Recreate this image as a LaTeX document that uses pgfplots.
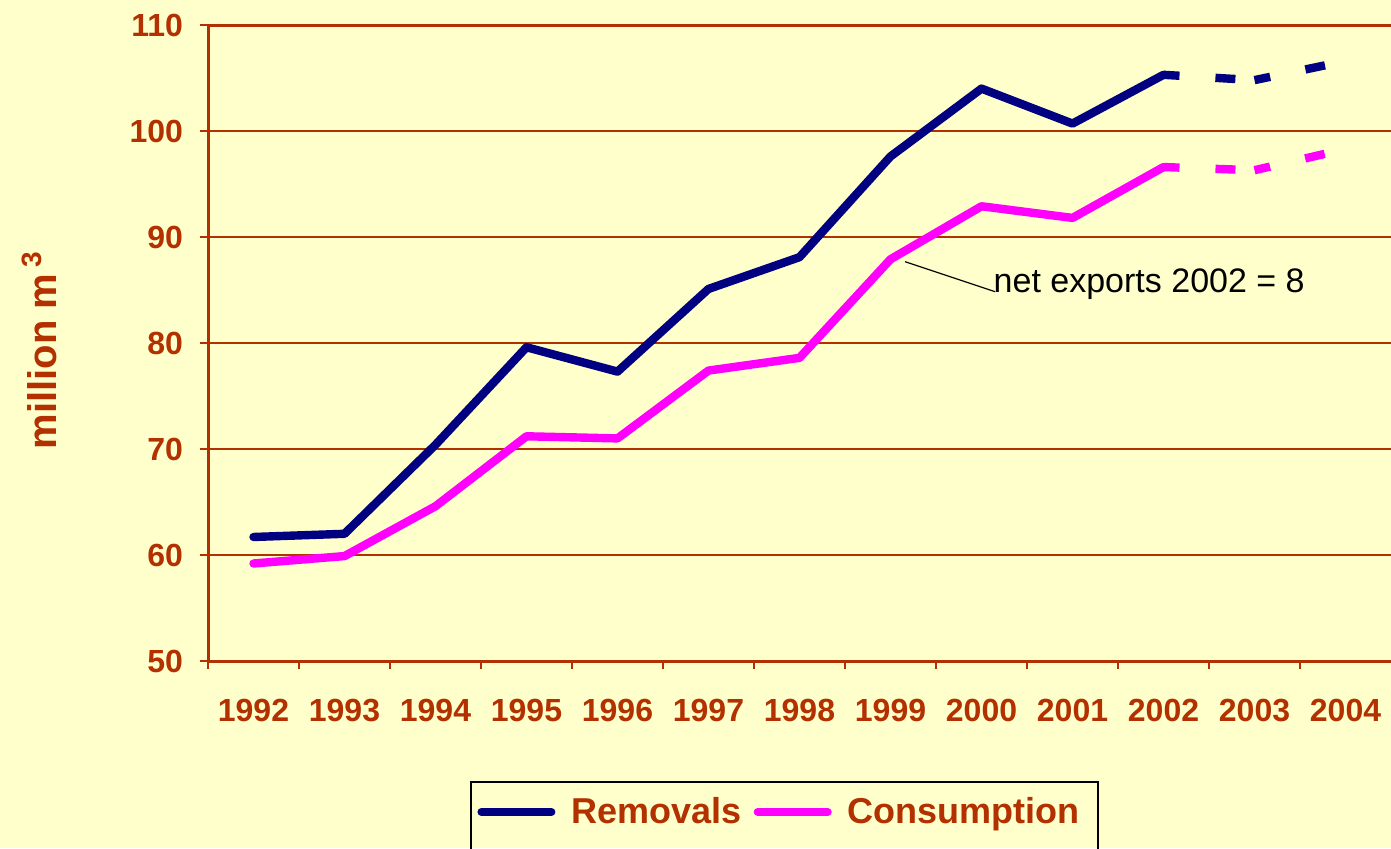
\documentclass[border=0pt]{standalone}
\usepackage{fontspec}
\setmainfont{Liberation Sans}
\usepackage{pgfplots}
\pgfplotsset{compat=1.18}
\definecolor{bg}{HTML}{FFFFCC}
\definecolor{brick}{HTML}{B33000}
\definecolor{navy}{HTML}{000080}
\definecolor{pink}{HTML}{FF00FF}

\begin{document}
\begin{tikzpicture}[x=1pt,y=1pt]
\fill[bg] (0,0) rectangle (695.5,424);
\begin{axis}[
  at={(104pt,93.5pt)}, anchor=south west,
  scale only axis, width=591.5pt, height=318pt,
  xmin=-0.5, xmax=12.5, ymin=50, ymax=110,
  axis x line*=bottom, axis y line*=left,
  axis line style={brick, line width=1.5pt, -},
  xtick={0,...,12},
  xticklabels={1992,1993,1994,1995,1996,1997,1998,1999,2000,2001,2002,2003,2004},
  minor xtick={-0.5,0.5,...,11.5},
  major x tick style={draw=none},
  minor x tick style={brick, line width=0.6pt},
  ytick={50,60,...,110},
  y tick style={brick, line width=0.6pt},
  tick align=outside, major tick length=4pt, minor tick length=4pt,
  ymajorgrids, grid style={brick, line width=0.6pt},
  ticklabel style={font=\bfseries\fontsize{16}{16}\selectfont, text=brick},
  xticklabel style={yshift=-11.5pt},
  yticklabel style={xshift=-5pt},
  /pgf/number format/assume math mode=true,
  legend style={draw=none, fill=none, inner sep=0pt,
    at={(0.2274,-0.2374)}, anchor=west, legend columns=2,
    font=\bfseries\fontsize{18}{18}\selectfont, text=brick,
    /tikz/every even column/.append style={column sep=4pt}},
  legend image code/.code={\draw[#1, line width=4pt, line cap=round, solid] (0pt,0pt) -- (35pt,0pt); \path (41pt,0pt);},
]
\addplot[navy, line width=4.2pt, line cap=round, line join=round] coordinates {
  (0,61.7) (1,62.0) (2,70.4) (3,79.6) (4,77.3) (5,85.1) (6,88.1) (7,97.6) (8,104.0) (9,100.7) (10,105.3)};
\addlegendentry{Removals}
\addplot[pink, line width=4.2pt, line cap=round, line join=round] coordinates {
  (0,59.2) (1,59.9) (2,64.6) (3,71.2) (4,71.0) (5,77.4) (6,78.6) (7,87.9) (8,92.9) (9,91.8) (10,96.6)};
\addlegendentry{Consumption}
% projections, dashed
\addplot[forget plot, navy, line width=4.2pt, dash pattern=on 10pt off 18pt, dash phase=2pt] coordinates {(10,105.3) (11,104.8)};
\addplot[forget plot, navy, line width=4.2pt, dash pattern=on 10pt off 18pt, dash phase=2pt] coordinates {(11,104.8) (12,106.6)};
\addplot[forget plot, pink, line width=4.2pt, dash pattern=on 10pt off 18pt, dash phase=2pt] coordinates {(10,96.6) (11,96.3)};
\addplot[forget plot, pink, line width=4.2pt, dash pattern=on 10pt off 18pt, dash phase=2pt] coordinates {(11,96.3) (12,98.3)};
\draw[brick, line width=1.5pt] (rel axis cs:0,1) -- (rel axis cs:1,1);
\draw[black, line width=0.6pt] (axis cs:7.16,87.67) -- (axis cs:8.15,84.84);
\node[anchor=base west, font=\fontsize{17}{17}\selectfont, inner sep=0pt] at (axis cs:8.13,84.8) {net exports 2002 = 8};
\end{axis}
\node[rotate=90, font=\bfseries\fontsize{20}{20}\selectfont, text=brick] at (19.5,249) {million m\,\textsuperscript{3}};
\draw[black, line width=0.6pt] (235.5,33) rectangle (549,-10);
\pgfresetboundingbox
\useasboundingbox (0,0) rectangle (695.5,424);
\end{tikzpicture}
\end{document}
